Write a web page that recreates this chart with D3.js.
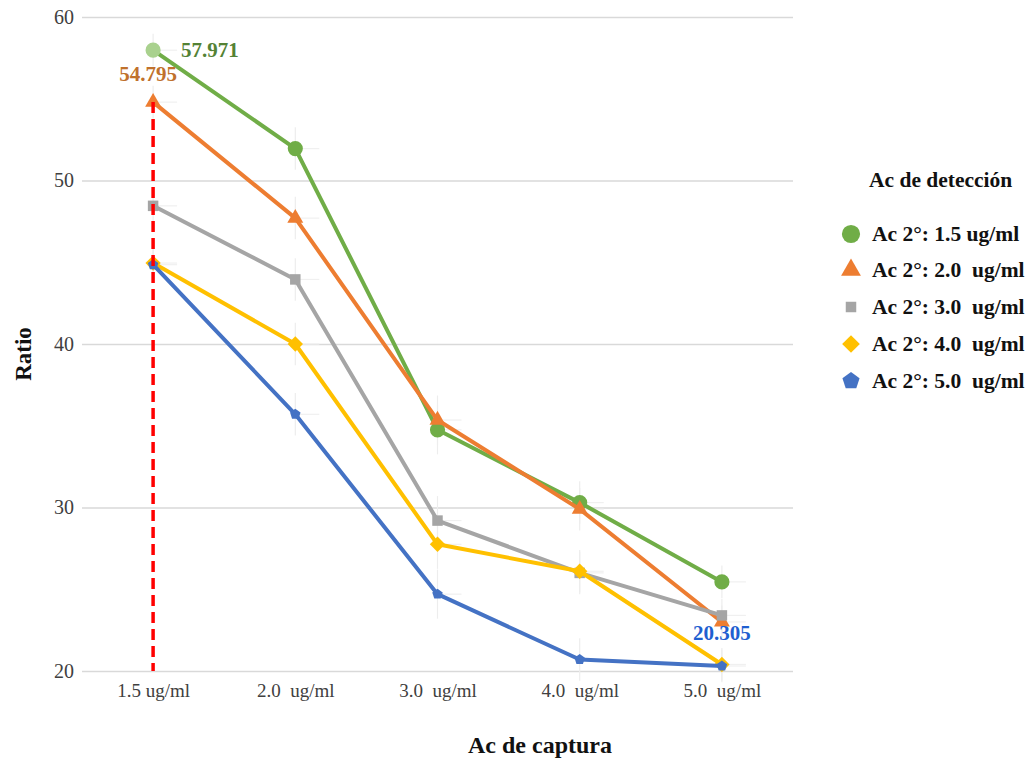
<!DOCTYPE html>
<html><head><meta charset="utf-8">
<script src="https://cdn.jsdelivr.net/npm/d3@7"></script>
<style>
html,body{margin:0;padding:0;background:#fff;}
text{font-family:"Liberation Serif","Times New Roman",serif;}
</style></head>
<body><svg id="chart" width="1035" height="762"></svg>
<script>
const categories = ["1.5 ug/ml", "2.0  ug/ml", "3.0  ug/ml", "4.0  ug/ml", "5.0  ug/ml"];
const seriesNames = ["Ac 2°: 1.5 ug/ml", "Ac 2°: 2.0  ug/ml", "Ac 2°: 3.0  ug/ml", "Ac 2°: 4.0  ug/ml", "Ac 2°: 5.0  ug/ml"];
const s15 = [57.971, 51.95, 34.75, 30.3, 25.45];
const s20 = [54.795, 47.7, 35.35, 29.9, 23.0];
const s30 = [48.45, 43.95, 29.2, 26.0, 23.4];
const s40 = [44.95, 40.0, 27.75, 26.1, 20.4];
const s50 = [44.85, 35.7, 24.7, 20.7, 20.305];
const errs = [1.0, 1.3, 1.5, 1.3, 1.0];
const yTicks = [20, 30, 40, 50, 60];
const colors = ["#70ad47", "#ed7d31", "#a5a5a5", "#ffc000", "#4472c4"];
const shapes = [d3.symbolCircle, d3.symbolTriangle, d3.symbolSquare, d3.symbolDiamond2, "pentagon"];
const sizes = [180, 110, 110, 150, 60];
const allSeries = [s15, s20, s30, s40, s50];

const svg = d3.select("#chart");
svg.append("rect").attr("width",1035).attr("height",762).attr("fill","#fff");

const x = d3.scalePoint().domain(categories).range([82, 793]).padding(0.5);
const y = d3.scaleLinear().domain([20, 60]).range([671, 17]);

// gridlines + y labels
const yAxis = d3.axisLeft(y).tickValues(yTicks).tickSize(-(793-82)).tickPadding(8);
const gy = svg.append("g").attr("transform","translate(82,0)").call(yAxis);
gy.select(".domain").remove();
gy.selectAll(".tick line").attr("stroke","#d9d9d9").attr("stroke-width",1.3);
gy.selectAll(".tick text").attr("font-size",20).attr("fill","#404040").attr("font-family","Liberation Serif, serif");

// x labels
const xAxis = d3.axisBottom(x).tickSize(0).tickPadding(13);
const gx = svg.append("g").attr("transform","translate(0,671)").call(xAxis);
gx.select(".domain").remove();
gx.selectAll(".tick text").attr("font-size",19).attr("fill","#404040")
  .attr("font-family","Liberation Serif, serif").style("white-space","pre");

// error bars (faint)
allSeries.forEach((s)=>{
  svg.append("g").selectAll("line").data(s).join("line")
    .attr("x1",(d,i)=>x(categories[i])).attr("x2",(d,i)=>x(categories[i]))
    .attr("y1",(d,i)=>y(d+errs[i])).attr("y2",(d,i)=>y(d-errs[i]))
    .attr("stroke","#ededed").attr("stroke-width",1.2);
  svg.append("g").selectAll("line").data(s).join("line")
    .attr("x1",(d,i)=>x(categories[i])).attr("x2",(d,i)=>x(categories[i])+24)
    .attr("y1",d=>y(d)).attr("y2",d=>y(d))
    .attr("stroke","#f0f0f0").attr("stroke-width",1.2);
});

function pentagon(r){
  const pts=[];
  for(let k=0;k<5;k++){const a=-Math.PI/2+k*2*Math.PI/5;pts.push([r*Math.cos(a),r*Math.sin(a)]);}
  return "M"+pts.map(p=>p.join(",")).join("L")+"Z";
}

const line = d3.line().x((d,i)=>x(categories[i])).y(d=>y(d));
allSeries.forEach((s,si)=>{
  const g = svg.append("g");
  g.append("path").datum(s).attr("d",line).attr("fill","none")
    .attr("stroke",colors[si]).attr("stroke-width",4).attr("stroke-linejoin","round");
  g.selectAll("path.m").data(s).join("path").attr("class","m")
    .attr("transform",(d,i)=>`translate(${x(categories[i])},${y(d)})`)
    .attr("d", shapes[si]==="pentagon" ? pentagon(5.5) : d3.symbol().type(shapes[si]).size(sizes[si])())
    .attr("fill",(d,i)=> (si===0 && i===0) ? "#a9d18e" : colors[si]);
});

// red dashed reference line
svg.append("line").attr("x1",x(categories[0])).attr("x2",x(categories[0]))
  .attr("y1",y(s20[0])).attr("y2",y(20))
  .attr("stroke","#ff0000").attr("stroke-width",3.5).attr("stroke-dasharray","11,6");

// data labels
svg.append("text").attr("x",x(categories[0])+28).attr("y",y(s15[0])+7)
  .attr("font-size",21).attr("font-weight","bold").attr("fill","#548235").text(s15[0].toFixed(3));
svg.append("text").attr("x",x(categories[0])-5).attr("y",y(s20[0])-21).attr("text-anchor","middle")
  .attr("font-size",21).attr("font-weight","bold").attr("fill","#c0712c").text(s20[0].toFixed(3));
svg.append("text").attr("x",x(categories[4])).attr("y",y(s50[4])-26).attr("text-anchor","middle")
  .attr("font-size",21).attr("font-weight","bold").attr("fill","#1f5fd0").text(s50[4].toFixed(3));

// axis titles
svg.append("text").attr("x",540).attr("y",753).attr("text-anchor","middle")
  .attr("font-size",24).attr("font-weight","bold").attr("fill","#111").text("Ac de captura");
svg.append("text").attr("transform","translate(31,354) rotate(-90)").attr("text-anchor","middle")
  .attr("font-size",23).attr("font-weight","bold").attr("fill","#111").text("Ratio");

// legend
svg.append("text").attr("x",869).attr("y",187).attr("font-size",21.5).attr("font-weight","bold")
  .attr("fill","#111").text("Ac de detección");
const legY = [234, 270, 307, 344, 381];
seriesNames.forEach((n,si)=>{
  svg.append("path").attr("transform",`translate(851,${legY[si]})`)
    .attr("d", shapes[si]==="pentagon" ? pentagon(9) : d3.symbol().type(shapes[si]).size([260,170,110,200,0][si])())
    .attr("fill",colors[si]);
  svg.append("text").attr("x",872).attr("y",legY[si]+7).attr("font-size",21.5).attr("font-weight","bold")
    .attr("fill","#111").style("white-space","pre").text(n);
});
</script></body></html>
